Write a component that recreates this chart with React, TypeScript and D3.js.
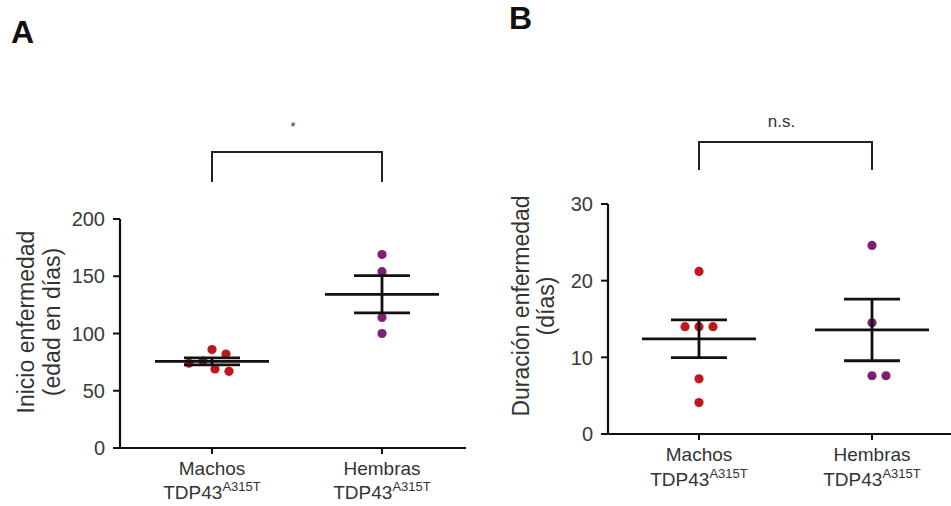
import React from "react";
import * as d3 from "d3";

// ---- data ----
const categories = ["Machos", "Hembras"];
const onsetMachos = [86, 82, 76, 74, 69, 67];
const onsetHembras = [169, 154, 114, 100];
const durationMachos = [21.2, 14, 14, 14, 7.2, 4.1];
const durationHembras = [24.6, 14.5, 7.6, 7.6];
const onsetTicks = [0, 50, 100, 150, 200];
const durationTicks = [0, 10, 20, 30];
const groupColors = ["#c0161c", "#7d1f72"];
const significance = ["*", "n.s."];

const FONT = "'Liberation Sans', Arial, Helvetica, sans-serif";

function swarm(vals: number[], y: (v: number) => number, D: number): number[] {
  const placed: { x: number; y: number }[] = [];
  return vals.map((v) => {
    const py = y(v);
    for (let k = 0; k < 400; k++) {
      const off = k === 0 ? 0 : k % 2 === 1 ? Math.ceil(k / 2) : -Math.ceil(k / 2);
      const ok = placed.every((p) => (p.x - off) ** 2 + (p.y - py) ** 2 >= D * D);
      if (ok) {
        placed.push({ x: off, y: py });
        return off;
      }
    }
    return 0;
  });
}

type PanelProps = {
  letter: string;
  letterX: number;
  letterY: number;
  axisLeft: number;
  axisRight: number;
  yZero: number;
  yTopPx: number;
  yMax: number;
  catRange: [number, number];
  ticks: number[];
  series: number[][];
  yLabels: string[];
  yLabelXs: number[];
  yLabelCY: number;
  bracketTop: number;
  bracketBottom: number;
  sig: string;
  sigY: number;
  sigSize: number;
  catY1: number;
  catY2: number;
};

function Panel(p: PanelProps) {
  const x = d3.scalePoint<string>().domain(categories).range(p.catRange);
  const y = d3.scaleLinear().domain([0, p.yMax]).range([p.yZero, p.yTopPx]);
  const meanHalf = 57;
  const semHalf = 28;
  const x1 = x(categories[0])!;
  const x2 = x(categories[1])!;
  return (
    <g fontFamily={FONT}>
      <text x={p.letterX} y={p.letterY} fontSize={32} fontWeight="bold" fill="#111">
        {p.letter}
      </text>
      {/* significance bracket */}
      <path
        d={`M${x1},${p.bracketBottom}V${p.bracketTop}H${x2}V${p.bracketBottom}`}
        fill="none"
        stroke="#222"
        strokeWidth={2}
      />
      <text x={(x1 + x2) / 2 - 4} y={p.sigY} fontSize={p.sigSize} textAnchor="middle" fill="#333">
        {p.sig}
      </text>
      {/* axes */}
      <line x1={p.axisLeft} x2={p.axisLeft} y1={p.yTopPx} y2={p.yZero} stroke="#111" strokeWidth={2.2} />
      <line x1={p.axisLeft} x2={p.axisRight} y1={p.yZero} y2={p.yZero} stroke="#111" strokeWidth={2.2} />
      {p.ticks.map((t) => (
        <g key={t}>
          <line x1={p.axisLeft - 7} x2={p.axisLeft} y1={y(t)} y2={y(t)} stroke="#111" strokeWidth={2} />
          <text
            x={p.axisLeft - 15}
            y={y(t)}
            dy="0.36em"
            fontSize={20}
            textAnchor="end"
            fill="#3a3a3a"
          >
            {t}
          </text>
        </g>
      ))}
      {categories.map((c) => (
        <g key={c}>
          <line x1={x(c)} x2={x(c)} y1={p.yZero} y2={p.yZero + 6} stroke="#111" strokeWidth={2} />
          <text x={x(c)} y={p.catY1} fontSize={19} textAnchor="middle" fill="#333">
            {c}
          </text>
          <text x={x(c)} y={p.catY2} fontSize={19} textAnchor="middle" fill="#333">
            TDP43
            <tspan fontSize={13} dy={-8}>
              A315T
            </tspan>
          </text>
        </g>
      ))}
      {/* y label */}
      {p.yLabels.map((l, i) => (
        <text
          key={l}
          transform={`translate(${p.yLabelXs[i]},${p.yLabelCY}) rotate(-90)`}
          fontSize={23}
          textAnchor="middle"
          fill="#333"
        >
          {l}
        </text>
      ))}
      {/* data */}
      {p.series.map((vals, gi) => {
        const cx = x(categories[gi])!;
        const offs = swarm(vals, y, 14);
        const m = d3.mean(vals)!;
        const sem = d3.deviation(vals)! / Math.sqrt(vals.length);
        return (
          <g key={gi}>
            {vals.map((v, i) => (
              <circle key={i} cx={cx + offs[i]} cy={y(v)} r={4.6} fill={groupColors[gi]} />
            ))}
            <line x1={cx - meanHalf} x2={cx + meanHalf} y1={y(m)} y2={y(m)} stroke="#111" strokeWidth={2.8} />
            <line x1={cx - semHalf} x2={cx + semHalf} y1={y(m + sem)} y2={y(m + sem)} stroke="#111" strokeWidth={2.8} />
            <line x1={cx - semHalf} x2={cx + semHalf} y1={y(m - sem)} y2={y(m - sem)} stroke="#111" strokeWidth={2.8} />
            <line x1={cx} x2={cx} y1={y(m + sem)} y2={y(m - sem)} stroke="#111" strokeWidth={2.8} />
          </g>
        );
      })}
    </g>
  );
}

export default function App() {
  return (
    <svg
      width={951}
      height={506}
      style={{ position: "absolute", left: 0, top: 0, background: "#fff" }}
    >
      <rect width={951} height={506} fill="#fff" />
      <Panel
        letter="A"
        letterX={11}
        letterY={43}
        axisLeft={120}
        axisRight={466}
        yZero={448}
        yTopPx={219}
        yMax={200}
        catRange={[212, 382]}
        ticks={onsetTicks}
        series={[onsetMachos, onsetHembras]}
        yLabels={["Inicio enfermedad", "(edad en días)"]}
        yLabelXs={[34, 60]}
        yLabelCY={322}
        bracketTop={152}
        bracketBottom={182}
        sig={significance[0]}
        sigY={131}
        sigSize={13}
        catY1={475}
        catY2={499}
      />
      <Panel
        letter="B"
        letterX={509}
        letterY={29}
        axisLeft={608}
        axisRight={951}
        yZero={434}
        yTopPx={204}
        yMax={30}
        catRange={[699, 872]}
        ticks={durationTicks}
        series={[durationMachos, durationHembras]}
        yLabels={["Duración enfermedad", "(días)"]}
        yLabelXs={[529, 554]}
        yLabelCY={306}
        bracketTop={142}
        bracketBottom={170}
        sig={significance[1]}
        sigY={127}
        sigSize={17}
        catY1={461}
        catY2={486}
      />
    </svg>
  );
}
